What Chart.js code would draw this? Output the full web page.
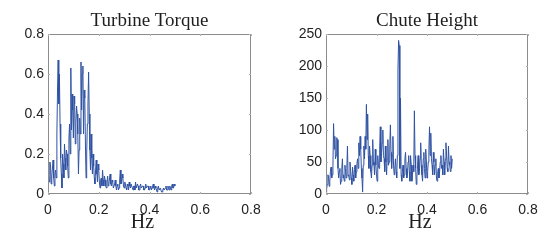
<!DOCTYPE html>
<html>
<head>
<meta charset="utf-8">
<script src="https://cdn.jsdelivr.net/npm/chart.js@4"></script>
<style>
  body { margin: 0; background: #fff; }
  #wrap { position: relative; width: 554px; height: 240px; }
  canvas { position: absolute; top: 0; }
</style>
</head>
<body>
<div id="wrap">
  <canvas id="torque" width="277" height="240" style="left:0"></canvas>
  <canvas id="chute" width="277" height="240" style="left:277px"></canvas>
</div>
<script>
// frequency grid (Hz) shared by both spectra
const freqs = [
  0, 0.0025, 0.005, 0.0075, 0.01, 0.0125, 0.015, 0.0175, 0.02, 0.0225,
  0.025, 0.0275, 0.03, 0.0325, 0.035, 0.0375, 0.04, 0.0425, 0.045, 0.0475,
  0.05, 0.0525, 0.055, 0.0575, 0.06, 0.0625, 0.065, 0.0675, 0.07, 0.0725,
  0.075, 0.0775, 0.08, 0.0825, 0.085, 0.0875, 0.09, 0.0925, 0.095, 0.0975,
  0.1, 0.1025, 0.105, 0.1075, 0.11, 0.1125, 0.115, 0.1175, 0.12, 0.1225,
  0.125, 0.1275, 0.13, 0.1325, 0.135, 0.1375, 0.14, 0.1425, 0.145, 0.1475,
  0.15, 0.1525, 0.155, 0.1575, 0.16, 0.1625, 0.165, 0.1675, 0.17, 0.1725,
  0.175, 0.1775, 0.18, 0.1825, 0.185, 0.1875, 0.19, 0.1925, 0.195, 0.1975,
  0.2, 0.2025, 0.205, 0.2075, 0.21, 0.2125, 0.215, 0.2175, 0.22, 0.2225,
  0.225, 0.2275, 0.23, 0.2325, 0.235, 0.2375, 0.24, 0.2425, 0.245, 0.2475,
  0.25, 0.2525, 0.255, 0.2575, 0.26, 0.2625, 0.265, 0.2675, 0.27, 0.2725,
  0.275, 0.2775, 0.28, 0.2825, 0.285, 0.2875, 0.29, 0.2925, 0.295, 0.2975,
  0.3, 0.3025, 0.305, 0.3075, 0.31, 0.3125, 0.315, 0.3175, 0.32, 0.3225,
  0.325, 0.3275, 0.33, 0.3325, 0.335, 0.3375, 0.34, 0.3425, 0.345, 0.3475,
  0.35, 0.3525, 0.355, 0.3575, 0.36, 0.3625, 0.365, 0.3675, 0.37, 0.3725,
  0.375, 0.3775, 0.38, 0.3825, 0.385, 0.3875, 0.39, 0.3925, 0.395, 0.3975,
  0.4, 0.4025, 0.405, 0.4075, 0.41, 0.4125, 0.415, 0.4175, 0.42, 0.4225,
  0.425, 0.4275, 0.43, 0.4325, 0.435, 0.4375, 0.44, 0.4425, 0.445, 0.4475,
  0.45, 0.4525, 0.455, 0.4575, 0.46, 0.4625, 0.465, 0.4675, 0.47, 0.4725,
  0.475, 0.4775, 0.48, 0.4825, 0.485, 0.4875, 0.49, 0.4925, 0.495, 0.4975,
  0.5
];

const torqueValues = [
  0.15, 0.10, 0.06, 0.16, 0.14, 0.05, 0.09, 0.13, 0.17, 0.08,
  0.04, 0.10, 0.12, 0.08, 0.30, 0.52, 0.67, 0.45, 0.60, 0.35,
  0.18, 0.10, 0.03, 0.20, 0.15, 0.08, 0.25, 0.18, 0.12, 0.22,
  0.20, 0.14, 0.08, 0.28, 0.35, 0.20, 0.63, 0.32, 0.50, 0.42,
  0.28, 0.49, 0.45, 0.25, 0.36, 0.44, 0.40, 0.30, 0.10, 0.22,
  0.38, 0.30, 0.66, 0.42, 0.60, 0.64, 0.30, 0.52, 0.48, 0.25,
  0.08, 0.20, 0.35, 0.45, 0.61, 0.40, 0.22, 0.12, 0.30, 0.18,
  0.10, 0.20, 0.14, 0.08, 0.05, 0.12, 0.17, 0.10, 0.06, 0.15,
  0.12, 0.06, 0.03, 0.07, 0.08, 0.04, 0.12, 0.07, 0.04, 0.09,
  0.07, 0.04, 0.03, 0.06, 0.09, 0.04, 0.05, 0.08, 0.10, 0.05,
  0.04, 0.07, 0.06, 0.03, 0.03, 0.05, 0.07, 0.04, 0.02, 0.04,
  0.05, 0.02, 0.03, 0.07, 0.12, 0.05, 0.06, 0.10, 0.08, 0.04,
  0.03, 0.06, 0.05, 0.03, 0.02, 0.05, 0.04, 0.02, 0.06, 0.04,
  0.03, 0.05, 0.05, 0.03, 0.02, 0.04, 0.04, 0.02, 0.06, 0.03,
  0.03, 0.05, 0.04, 0.02, 0.02, 0.04, 0.05, 0.03, 0.03, 0.04,
  0.04, 0.02, 0.02, 0.03, 0.05, 0.03, 0.03, 0.04, 0.04, 0.02,
  0.02, 0.03, 0.04, 0.02, 0.03, 0.04, 0.05, 0.03, 0.02, 0.04,
  0.03, 0.02, 0.01, 0.03, 0.04, 0.02, 0.02, 0.03, 0.03, 0.01,
  0.01, 0.02, 0.03, 0.02, 0.02, 0.03, 0.04, 0.02, 0.02, 0.04,
  0.03, 0.02, 0.04, 0.03, 0.02, 0.04, 0.05, 0.03, 0.03, 0.05,
  0.04
];

const chuteValues = [
  2, 8, 15, 30, 28, 12, 20, 35, 42, 25,
  30, 45, 110, 70, 90, 55, 60, 88, 85, 40,
  25, 35, 40, 15, 20, 38, 55, 25, 30, 20,
  45, 35, 25, 40, 75, 28, 30, 22, 50, 35,
  25, 15, 42, 30, 20, 38, 45, 25, 35, 48,
  55, 40, 80, 60, 90, 70, 40, 25, 3, 45,
  75, 55, 90, 70, 140, 85, 125, 60, 40, 75,
  60, 35, 25, 45, 85, 50, 45, 30, 70, 45,
  30, 20, 60, 45, 40, 70, 105, 50, 65, 80,
  100, 60, 55, 35, 75, 50, 30, 55, 85, 45,
  50, 70, 108, 65, 40, 60, 90, 45, 30, 40,
  55, 35, 25, 60, 195, 240, 232, 40, 150, 30,
  20, 35, 45, 25, 30, 55, 65, 40, 25, 30,
  50, 60, 35, 20, 60, 45, 20, 30, 45, 35,
  130, 60, 40, 15, 25, 45, 60, 30, 35, 55,
  80, 45, 30, 20, 55, 65, 40, 25, 70, 50,
  25, 35, 50, 70, 105, 60, 95, 55, 45, 30,
  65, 50, 30, 45, 55, 25, 20, 35, 40, 25,
  35, 50, 60, 40, 45, 30, 70, 50, 30, 55,
  80, 60, 40, 35, 75, 50, 45, 35, 60, 40,
  55
];

const xTicks = [0, 0.2, 0.4, 0.6, 0.8];
const torqueTicks = [0, 0.2, 0.4, 0.6, 0.8];
const chuteTicks = [0, 50, 100, 150, 200, 250];

const LINE = '#2f52a2';
const TICK_FONT = { family: '"Liberation Sans", Arial, sans-serif', size: 14 };

// box around the axes, small inward ticks, title and "Hz" label
const framePlugin = {
  id: 'frame',
  afterDraw(chart, args, opts) {
    const { ctx, chartArea: a, scales } = chart;
    ctx.save();
    ctx.strokeStyle = '#8c8c8c';
    ctx.lineWidth = 1;
    ctx.strokeRect(a.left + 0.5, a.top + 0.5, a.right - a.left - 1, a.bottom - a.top - 1);
    ctx.strokeStyle = '#b0b0b0';
    ctx.beginPath();
    scales.x.ticks.forEach(t => {
      const px = Math.round(scales.x.getPixelForValue(t.value)) + 0.5;
      ctx.moveTo(px, a.bottom); ctx.lineTo(px, a.bottom - 2);
      ctx.moveTo(px, a.top); ctx.lineTo(px, a.top + 2);
    });
    scales.y.ticks.forEach(t => {
      const py = Math.round(scales.y.getPixelForValue(t.value)) + 0.5;
      ctx.moveTo(a.left, py); ctx.lineTo(a.left + 2, py);
      ctx.moveTo(a.right, py); ctx.lineTo(a.right - 2, py);
    });
    ctx.stroke();
    ctx.fillStyle = '#1e1e1e';
    ctx.textAlign = 'center';
    ctx.textBaseline = 'middle';
    ctx.font = '19px "Liberation Serif", "Times New Roman", serif';
    ctx.fillText(opts.title, (a.left + a.right) / 2, 21);
    ctx.font = '20px "Liberation Serif", "Times New Roman", serif';
    ctx.fillText('Hz', (a.left + a.right) / 2 - 7, 223);
    ctx.restore();
  }
};

function makeChart(id, title, values, yTicks, yMax, yWidth) {
  return new Chart(document.getElementById(id), {
    type: 'line',
    data: {
      datasets: [{
        data: freqs.map((f, i) => ({ x: f, y: values[i] })),
        borderColor: LINE,
        borderWidth: 1,
        pointRadius: 0,
        tension: 0
      }]
    },
    options: {
      responsive: false,
      animation: false,
      layout: { padding: { top: 34, right: 26, left: 0, bottom: 0 } },
      plugins: {
        legend: { display: false },
        tooltip: { enabled: false },
        frame: { title: title }
      },
      scales: {
        x: {
          type: 'linear',
          min: 0,
          max: 0.8,
          afterBuildTicks: s => { s.ticks = xTicks.map(v => ({ value: v })); },
          afterFit: s => { s.height = 46; },
          grid: { display: false, drawTicks: false },
          border: { display: false },
          ticks: { font: TICK_FONT, color: '#222', padding: 8, maxRotation: 0 }
        },
        y: {
          min: 0,
          max: yMax,
          afterBuildTicks: s => { s.ticks = yTicks.map(v => ({ value: v })); },
          afterFit: s => { s.width = yWidth; },
          grid: { display: false, drawTicks: false },
          border: { display: false },
          ticks: { font: TICK_FONT, color: '#222', padding: 4 }
        }
      }
    },
    plugins: [framePlugin]
  });
}

makeChart('torque', 'Turbine Torque', torqueValues, torqueTicks, 0.8, 48);
makeChart('chute', 'Chute Height', chuteValues, chuteTicks, 250, 49);
</script>
</body>
</html>
